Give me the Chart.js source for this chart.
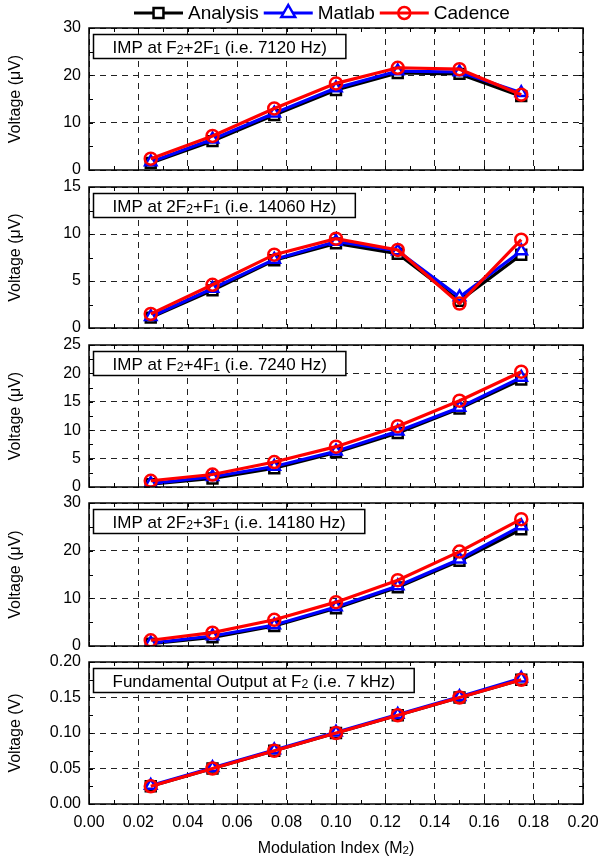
<!DOCTYPE html>
<html>
<head>
<meta charset="utf-8">
<script src="https://cdn.jsdelivr.net/npm/chart.js@4.4.0/dist/chart.umd.min.js"></script>
<style>
  html, body { margin: 0; padding: 0; background: #fff; }
  #wrap { position: relative; width: 600px; height: 861px; }
  #wrap canvas { position: absolute; left: 0; }
</style>
</head>
<body>
<div id="wrap"></div>
<script>
// ---- data ----
const modIndex = [0.025, 0.05, 0.075, 0.10, 0.125, 0.15, 0.175];
const seriesNames = ['Analysis', 'Matlab', 'Cadence'];

// "_" marks the next char as subscript
const panelTitles = [
  'IMP at F_2+2F_1 (i.e. 7120 Hz)',
  'IMP at 2F_2+F_1 (i.e. 14060 Hz)',
  'IMP at F_2+4F_1 (i.e. 7240 Hz)',
  'IMP at 2F_2+3F_1 (i.e. 14180 Hz)',
  'Fundamental Output at F_2 (i.e. 7 kHz)'
];
const yTitles = ['Voltage (\u03bcV)', 'Voltage (\u03bcV)', 'Voltage (\u03bcV)', 'Voltage (\u03bcV)', 'Voltage (V)'];
const yMax = [30, 15, 25, 30, 0.20];
const yStep = [10, 5, 5, 10, 0.05];
const xTitle = 'Modulation Index (M_2)';

const analysis1 = [1.5, 6.1, 11.6, 16.9, 20.5, 20.3, 15.6];
const matlab1   = [1.7, 6.5, 12.0, 17.3, 20.9, 20.7, 16.3];
const cadence1  = [2.4, 7.2, 13.0, 18.3, 21.6, 21.3, 15.9];

const analysis2 = [1.1, 4.0, 7.2, 9.0, 7.9, 2.9, 7.8];
const matlab2   = [1.2, 4.2, 7.3, 9.2, 8.2, 3.3, 8.2];
const cadence2  = [1.5, 4.6, 7.8, 9.5, 8.3, 2.6, 9.4];

const analysis3 = [0.5, 1.5, 3.3, 6.1, 9.5, 13.8, 18.9];
const matlab3   = [0.6, 1.8, 3.6, 6.3, 9.8, 14.0, 19.3];
const cadence3  = [1.1, 2.2, 4.4, 7.1, 10.7, 15.2, 20.3];

const analysis4 = [0.5, 1.8, 4.2, 7.9, 12.3, 17.9, 24.5];
const matlab4   = [0.6, 2.1, 4.4, 8.2, 12.6, 18.2, 25.2];
const cadence4  = [1.2, 2.8, 5.5, 9.2, 13.8, 19.8, 26.6];

const analysis5 = [0.025, 0.050, 0.075, 0.100, 0.125, 0.150, 0.175];
const matlab5   = [0.026, 0.051, 0.076, 0.101, 0.126, 0.151, 0.177];
const cadence5  = [0.025, 0.050, 0.075, 0.100, 0.125, 0.150, 0.175];

const panelData = [
  [analysis1, matlab1, cadence1],
  [analysis2, matlab2, cadence2],
  [analysis3, matlab3, cadence3],
  [analysis4, matlab4, cadence4],
  [analysis5, matlab5, cadence5]
];

// ---- layout ----
const plotTops = [28, 187, 345, 503, 662];
const plotBottoms = [170, 328, 487, 646, 804];
const FONT = '"Liberation Sans", Arial, Helvetica, sans-serif';
Chart.defaults.font.family = FONT;
Chart.defaults.color = '#000';

const styles = [
  { color: '#000000', shape: 'rect', r: 7, fill: '#fff', order: 3 },
  { color: '#0000ff', shape: 'triangle', r: 6.5, fill: '#fff', order: 2 },
  { color: '#ff0000', shape: 'circle', r: 6, fill: 'rgba(0,0,0,0)', order: 1 }
];

function richWidth(ctx, str, size) {
  let w = 0;
  for (let i = 0; i < str.length; i++) {
    let ch = str[i], sub = false;
    if (ch === '_') { ch = str[++i]; sub = true; }
    ctx.font = (sub ? size * 0.72 : size) + 'px ' + FONT;
    w += ctx.measureText(ch).width;
  }
  return w;
}

function drawRich(ctx, str, x, y, size) {
  let cx = x;
  ctx.textBaseline = 'alphabetic';
  ctx.textAlign = 'left';
  for (let i = 0; i < str.length; i++) {
    let ch = str[i], sub = false;
    if (ch === '_') { ch = str[++i]; sub = true; }
    ctx.font = (sub ? size * 0.72 : size) + 'px ' + FONT;
    ctx.fillText(ch, cx, y + (sub ? size * 0.08 : 0));
    cx += ctx.measureText(ch).width;
  }
}

function drawMarker(ctx, st, x, y, r) {
  ctx.beginPath();
  if (st.shape === 'rect') {
    const s = r * Math.SQRT1_2;
    ctx.rect(x - s, y - s, 2 * s, 2 * s);
  } else if (st.shape === 'triangle') {
    ctx.moveTo(x, y - r);
    ctx.lineTo(x + r * 0.866, y + r * 0.5);
    ctx.lineTo(x - r * 0.866, y + r * 0.5);
    ctx.closePath();
  } else {
    ctx.arc(x, y, r, 0, Math.PI * 2);
  }
  ctx.fillStyle = st.fill;
  ctx.fill();
  ctx.stroke();
}

const framePlugin = {
  id: 'frame',
  afterDatasetsDraw(chart, args, opts) {
    const ctx = chart.ctx;
    const { left, right, top, bottom } = chart.chartArea;
    const xs = chart.scales.x, ys = chart.scales.y;
    ctx.save();
    ctx.strokeStyle = '#000';
    ctx.lineWidth = 1;
    // inward minor ticks
    const nx = Math.round((xs.max - xs.min) / 0.01);
    for (let i = 0; i <= nx; i++) {
      const px = Math.round(xs.getPixelForValue(xs.min + i * 0.01)) + 0.5;
      ctx.beginPath();
      ctx.moveTo(px, top); ctx.lineTo(px, top + 4);
      ctx.moveTo(px, bottom); ctx.lineTo(px, bottom - 4);
      ctx.stroke();
    }
    const ystep = opts.step / 2;
    const ny = Math.round((ys.max - ys.min) / ystep);
    for (let i = 0; i <= ny; i++) {
      const py = Math.round(ys.getPixelForValue(ys.min + i * ystep)) + 0.5;
      ctx.beginPath();
      ctx.moveTo(left, py); ctx.lineTo(left + 4, py);
      ctx.moveTo(right, py); ctx.lineTo(right - 4, py);
      ctx.stroke();
    }
    // frame
    ctx.lineWidth = 1.5;
    ctx.strokeRect(left, top, right - left, bottom - top);
    // label box
    const size = 17;
    const w = richWidth(ctx, opts.title, size) + 38;
    const bx = left + 4.5, by = top + 6.5, bh = 24;
    ctx.fillStyle = '#fff';
    ctx.fillRect(bx, by, w, bh);
    ctx.strokeRect(bx, by, w, bh);
    ctx.fillStyle = '#000';
    drawRich(ctx, opts.title, bx + 19, by + 18, size);
    // x axis title on last panel
    if (opts.xTitle) {
      const tw = richWidth(ctx, opts.xTitle, 16);
      drawRich(ctx, opts.xTitle, (left + right) / 2 - tw / 2, bottom + 49, 16);
    }
    // legend on first panel
    if (opts.legend) {
      let x = 134;
      const y = 13;
      ctx.font = '19px ' + FONT;
      ctx.textBaseline = 'middle';
      ctx.textAlign = 'left';
      seriesNames.forEach((name, i) => {
        const st = styles[i];
        ctx.strokeStyle = st.color;
        ctx.lineWidth = 3;
        ctx.beginPath();
        ctx.moveTo(x, y); ctx.lineTo(x + 49, y);
        ctx.stroke();
        ctx.lineWidth = 2.5;
        drawMarker(ctx, st, x + 24.5, y, [7, 8, 6][i]);
        ctx.fillStyle = '#000';
        ctx.font = '19px ' + FONT;
        ctx.fillText(name, x + 54, y + 1);
        x += 54 + ctx.measureText(name).width + 5;
      });
    }
    ctx.restore();
  }
};

const wrap = document.getElementById('wrap');

panelData.forEach((series, p) => {
  const last = p === panelData.length - 1;
  const padTop = p === 0 ? 28 : 14;
  const padBottom = last ? 57 : 14;
  const canvas = document.createElement('canvas');
  canvas.width = 600;
  canvas.height = plotBottoms[p] - plotTops[p] + padTop + padBottom;
  canvas.style.top = (plotTops[p] - padTop) + 'px';
  wrap.appendChild(canvas);

  const datasets = series.map((vals, i) => ({
    label: seriesNames[i],
    data: modIndex.map((x, k) => ({ x: x, y: vals[k] })),
    borderColor: styles[i].color,
    borderWidth: 3.2,
    tension: 0,
    pointStyle: styles[i].shape,
    pointRadius: styles[i].r,
    pointBorderWidth: 2.5,
    pointBorderColor: styles[i].color,
    pointBackgroundColor: styles[i].fill,
    order: styles[i].order
  }));

  const gridOpts = { color: '#222', lineWidth: 1, drawTicks: false };
  const dec = last ? 2 : 0;

  new Chart(canvas, {
    type: 'line',
    data: { datasets: datasets },
    options: {
      responsive: false,
      animation: false,
      devicePixelRatio: 1,
      events: [],
      layout: { autoPadding: false, padding: { top: padTop, bottom: last ? 0 : padBottom, left: 0, right: 17 } },
      plugins: {
        legend: { display: false },
        tooltip: { enabled: false },
        frame: { step: yStep[p], title: panelTitles[p], legend: p === 0, xTitle: last ? xTitle : null }
      },
      scales: {
        x: {
          type: 'linear', min: 0, max: 0.2,
          ticks: { display: last, stepSize: 0.02, padding: 9, font: { size: 16 }, color: '#000',
                   callback: v => v.toFixed(2) },
          grid: gridOpts,
          border: { display: false, dash: [6, 5] },
          afterFit: s => { s.height = last ? padBottom : 0; s.paddingLeft = 0; s.paddingRight = 0; }
        },
        y: {
          min: 0, max: yMax[p],
          ticks: { stepSize: yStep[p], padding: 8, font: { size: 16 }, color: '#000',
                   callback: v => v.toFixed(dec) },
          grid: gridOpts,
          border: { display: false, dash: [6, 5] },
          title: { display: true, text: yTitles[p], font: { size: 16 }, color: '#000', padding: { top: 6, bottom: 0 } },
          afterFit: s => { s.width = 89; s.paddingTop = 0; s.paddingBottom = 0; }
        }
      }
    },
    plugins: [framePlugin]
  });
});
</script>
</body>
</html>
